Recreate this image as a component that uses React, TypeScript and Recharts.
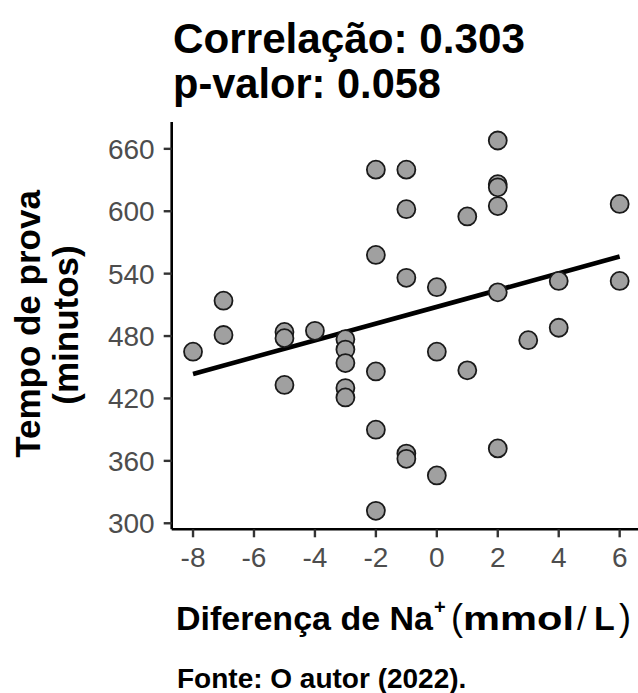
import React from "react";
import {
  ScatterChart,
  Scatter,
  XAxis,
  YAxis,
  ReferenceLine,
} from "recharts";

// Diferença de Na+ (mmol/L) e tempo de prova (minutos)
const naDiff = [
  -8, -7, -7, -5, -5, -5, -4, -3, -3, -3, -3, -3, -2, -2, -2, -2, -2, -1, -1,
  -1, -1, -1, 0, 0, 0, 1, 1, 2, 2, 2, 2, 2, 2, 3, 4, 4, 6, 6,
];
const tempoProva = [
  465, 514, 481, 484, 478, 433, 485, 477, 467, 454, 430, 421, 640, 558, 446,
  390, 312, 640, 602, 536, 367, 362, 527, 465, 346, 595, 447, 668, 626, 623,
  605, 522, 372, 476, 533, 488, 607, 533,
];

// reta de regressão (extremos)
const fitX = [-8, 6];
const fitY = [443.6, 556.4];

const xTicks = [-8, -6, -4, -2, 0, 2, 4, 6];
const yTicks = [300, 360, 420, 480, 540, 600, 660];

const points = naDiff.map((x, i) => ({ x, y: tempoProva[i] }));

const FONT = "'Liberation Sans', Arial, Helvetica, sans-serif";

const Dot = (props: any) => {
  const { cx, cy } = props;
  return (
    <circle
      cx={cx}
      cy={cy}
      r={9}
      fill="#a0a0a0"
      stroke="#1a1a1a"
      strokeWidth={1.8}
    />
  );
};

export default function App() {
  return (
    <div
      style={{
        position: "absolute",
        left: 0,
        top: 0,
        width: 638,
        height: 693,
        overflow: "hidden",
        background: "#fff",
      }}
    >
      <ScatterChart
        width={650}
        height={693}
        margin={{ top: 122, right: 9, bottom: 0, left: 0 }}
      >
        <XAxis
          type="number"
          dataKey="x"
          domain={[-8.7, 6.7]}
          ticks={xTicks}
          allowDataOverflow
          height={163.7}
          axisLine={{ stroke: "#000", strokeWidth: 2.6 }}
          tickLine={{ stroke: "#333", strokeWidth: 2.4 }}
          tickSize={8}
          tickMargin={10}
          tick={{ fill: "#4d4d4d", fontSize: 28, fontFamily: FONT }}
        />
        <YAxis
          type="number"
          dataKey="y"
          domain={[294.2, 685.8]}
          ticks={yTicks}
          allowDataOverflow
          width={171.7}
          axisLine={{ stroke: "#000", strokeWidth: 2.6 }}
          tickLine={{ stroke: "#333", strokeWidth: 2.4 }}
          tickSize={8}
          tickMargin={9}
          tick={{ fill: "#4d4d4d", fontSize: 28, fontFamily: FONT }}
        />
        <Scatter data={points} shape={Dot} isAnimationActive={false} />
        <ReferenceLine
          segment={[
            { x: fitX[0], y: fitY[0] },
            { x: fitX[1], y: fitY[1] },
          ]}
          stroke="#000"
          strokeWidth={4.6}
        />
      </ScatterChart>

      <svg
        width={638}
        height={693}
        style={{ position: "absolute", left: 0, top: 0, pointerEvents: "none" }}
        fontFamily={FONT}
        fontWeight="bold"
      >
        <text x={173} y={53} fontSize={42} textLength={352} lengthAdjust="spacingAndGlyphs">
          Correlação: 0.303
        </text>
        <text x={173} y={98} fontSize={42} textLength={268} lengthAdjust="spacingAndGlyphs">
          p-valor: 0.058
        </text>

        <g transform="translate(40,324) rotate(-90)">
          <text x={0} y={0} fontSize={35} textAnchor="middle">
            Tempo de prova
          </text>
        </g>
        <g transform="translate(78,325) rotate(-90)">
          <text x={0} y={0} fontSize={35} textAnchor="middle">
            (minutos)
          </text>
        </g>

        <text x={176} y={630} fontSize={34}>
          Diferença de Na
        </text>
        <text x={434} y={614} fontSize={20}>
          +
        </text>
        <text x={451} y={630} fontSize={36} fontWeight="normal">
          (
        </text>
        <text x={463} y={630} fontSize={34} textLength={111} lengthAdjust="spacingAndGlyphs">
          mmol
        </text>
        <text x={577} y={630} fontSize={34} fontWeight="normal">
          /
        </text>
        <text x={594} y={630} fontSize={34}>
          L
        </text>
        <text x={619} y={630} fontSize={36} fontWeight="normal">
          )
        </text>

        <text x={177} y={688} fontSize={28}>
          Fonte: O autor (2022).
        </text>
      </svg>
    </div>
  );
}
